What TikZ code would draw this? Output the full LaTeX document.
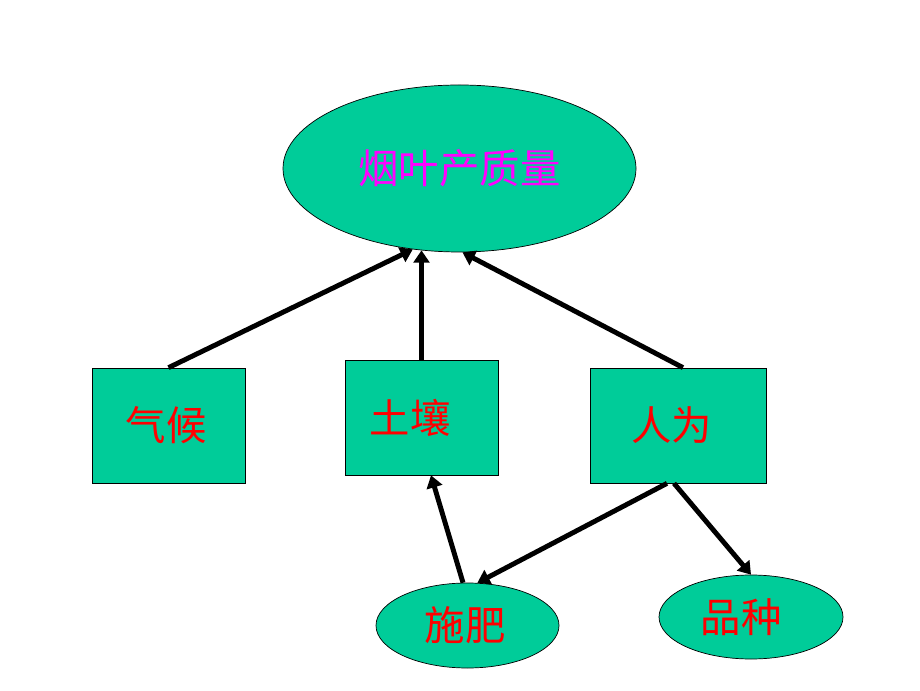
\documentclass[tikz,border=0pt]{standalone}
\usepackage{fontspec}
\setmainfont{Noto Sans CJK SC}
\usetikzlibrary{shapes.geometric,arrows.meta}
\definecolor{qqccgg}{rgb}{0,0.8,0.6}
\definecolor{ffqqff}{rgb}{1,0,1}
\definecolor{ffqqqq}{rgb}{1,0,0}

\begin{document}
\begin{tikzpicture}[x=1.0cm,y=1.0cm,
	box/.style={draw=black,fill=qqccgg,rectangle,inner sep=0pt,minimum height=2.3cm,text=ffqqqq,font=\fontsize{23}{28}\selectfont},
	oval/.style={draw=black,fill=qqccgg,ellipse,inner sep=0pt,text=ffqqqq,font=\fontsize{23}{28}\selectfont},
	link/.style={line width=2.8pt,-{Triangle[length=7pt,width=9pt]}}]
			\useasboundingbox (0,0) rectangle (18.4,13.8);
			\node [oval,minimum width=7.06cm,minimum height=3.34cm,text=ffqqff] (yield) at (9.19,10.43) {烟叶产质量};
			\node [box,minimum width=3.06cm] (climate) at (3.37,5.29) {气候\kern0.1cm};
			\node [box,minimum width=3.06cm] (soil) at (8.43,5.45) {土壤\kern0.46cm};
			\node [box,minimum width=3.52cm] (human) at (13.56,5.29) {人为\kern0.26cm};
			\node [oval,minimum width=3.66cm,minimum height=1.7cm] (fert) at (9.35,1.29) {施肥\kern0.1cm};
			\node [oval,minimum width=3.68cm,minimum height=1.68cm] (breed) at (15.02,1.46) {品种\kern0.4cm};
			\draw [link] (climate.north) -- (yield.-120);
			\draw [link] (soil.north) -- (soil.north |- yield.-115);
			\draw [link] ([xshift=0.1cm]human.north) -- (yield.-88);
			\draw [link] (fert.96) -- ([xshift=0.19cm]soil.south);
			\draw [link] ([xshift=-0.22cm]human.south) -- (fert.77);
			\draw [link] ([xshift=-0.08cm]human.south) -- (breed.north);
\end{tikzpicture}
\end{document}
